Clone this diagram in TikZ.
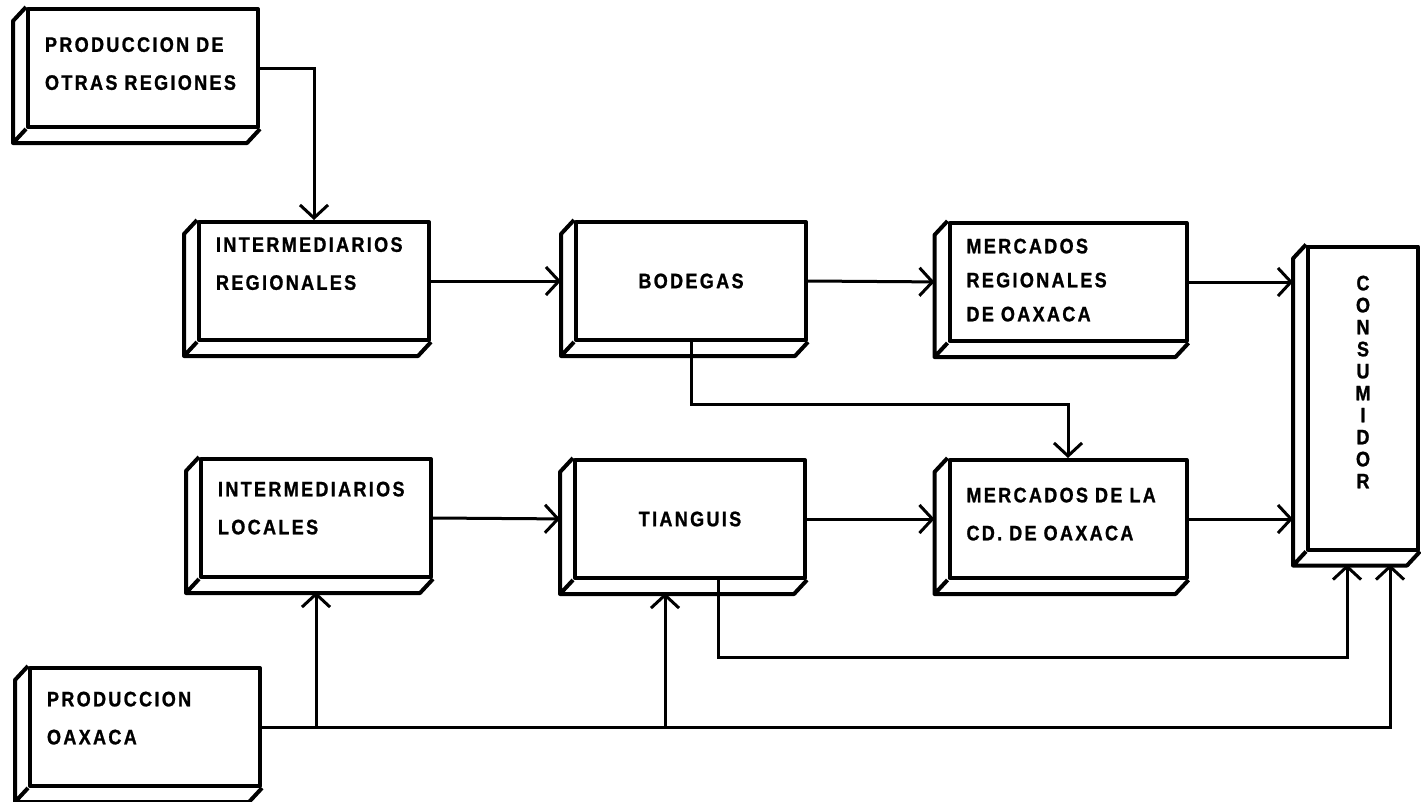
\documentclass[tikz,border=0pt]{standalone}
\usepackage{fontspec}
\newfontfamily\rotulo[FakeStretch=0.86,LetterSpace=11,FakeBold=1]{Liberation Sans}
\usetikzlibrary{arrows.meta,calc}

\begin{document}
\begin{tikzpicture}[x=1pt, y=-1pt,
  caja/.style={draw, line width=4pt, line join=round, rectangle,
    minimum height=118pt, text width=196pt, inner xsep=17pt, inner ysep=0pt,
    align=left, font=\rotulo\bfseries\fontsize{21}{38}\selectfont},
  lado/.style={draw, line width=4pt, line join=round},
  flecha/.style={line width=3pt, -{Straight Barb[length=13pt,width=28pt]},
    shorten >=13pt},
  linea/.style={line width=3pt}]

\useasboundingbox (0,0) rectangle (1421,801);

% Produccion de otras regiones
\node[caja, text depth=47pt] (otras) at (143,68) {PRODUCCION DE\\OTRAS REGIONES};

% Intermediarios regionales
\node[caja, text depth=73pt] (ireg) at (314,281) {INTERMEDIARIOS\\REGIONALES};

% Bodegas
\node[caja, align=center] (bodegas) at (691,281) {BODEGAS};

% Mercados regionales
\node[caja, text width=203pt, text depth=72pt,
  font=\rotulo\bfseries\fontsize{21}{34}\selectfont] (mreg) at (1068,282)
  {MERCADOS\\REGIONALES\\DE OAXACA};

% Consumidor
\node[caja, text width=76pt, minimum height=303pt, align=center, text depth=230pt,
  font=\rotulo\bfseries\fontsize{21}{22}\selectfont] (consumidor) at (1363,398)
  {C\\O\\N\\S\\U\\M\\I\\D\\O\\R};

% Intermediarios locales
\node[caja, text depth=58pt] (iloc) at (316,518) {INTERMEDIARIOS\\LOCALES};

% Tianguis
\node[caja, align=center] (tianguis) at (690,519) {TIANGUIS};

% Mercados de la ciudad
\node[caja, text width=203pt, text depth=48pt] (mcd) at (1068,519)
  {MERCADOS DE LA\\CD. DE OAXACA};

% Produccion Oaxaca
\node[caja, text depth=56pt] (oaxaca) at (145,727) {PRODUCCION\\OAXACA};

% Caras laterales
\foreach \n in {otras,ireg,bodegas,mreg,consumidor,iloc,tianguis,mcd,oaxaca}
  \draw[lado] (\n.north west) -- ++(-13,14) |- ($(\n.south east)+(-13,14)$)
    -- (\n.south east) (\n.south west) -- ++(-13,14);

% Flechas
\draw[flecha, shorten >=0pt] (otras.east) -| (ireg.north);
\draw[flecha] (ireg.east) -- (bodegas.west);
\draw[flecha] (bodegas.east) -- (mreg.west);
\draw[flecha] (mreg.east) -- (mreg.east -| consumidor.west);
\draw[flecha, shorten >=0pt] (bodegas.south) -- ++(0,62) -| (mcd.north);
\draw[flecha] (iloc.east) -- (tianguis.west);
\draw[flecha] (tianguis.east) -- (mcd.west);
\draw[flecha] (mcd.east) -- (mcd.east -| consumidor.west);
\draw[flecha] ($(tianguis.south)+(28,0)$) -- ++(0,77) -| ($(consumidor.south)+(-16,0)$);
\draw[flecha] (oaxaca.east) -| ($(consumidor.south)+(27,0)$);
\draw[flecha] (oaxaca.east -| iloc.south) -- (iloc.south);
\draw[flecha] ($(oaxaca.east -| tianguis.south)+(-25,0)$) -- ($(tianguis.south)+(-25,0)$);

\end{tikzpicture}
\end{document}
